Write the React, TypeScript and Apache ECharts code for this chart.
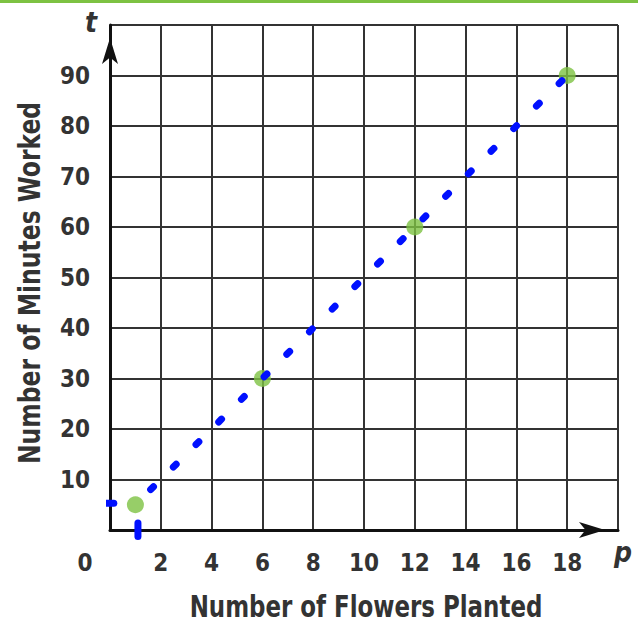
import React, { useEffect, useRef } from "react";
import * as echarts from "echarts";

const xLabels = [2, 4, 6, 8, 10, 12, 14, 16, 18];
const yLabels = [10, 20, 30, 40, 50, 60, 70, 80, 90];
const pointP = [1, 6, 12, 18];
const pointT = [5, 30, 60, 90];
const lineP = [1.6, 18.3];
const lineT = [8, 91.5];
const strayA_P = [-0.15, 0.15];
const strayA_T = [5.3, 5.3];
const strayB_P = [1.1, 1.1];
const strayB_T = [-1.3, 1.4];

const FONT = "'DejaVu Sans Condensed', 'Noto Sans', sans-serif";
const BLUE = "#0010ff";
const GREEN = "#7dc242";

const zip = (a: number[], b: number[]) => a.map((v, i) => [v, b[i]]);

export default function App() {
  const ref = useRef<HTMLDivElement>(null);
  useEffect(() => {
    document.body.style.margin = "0";
    const chart = echarts.init(ref.current!, null, { renderer: "svg" });
    chart.setOption({
      animation: false,
      backgroundColor: "#ffffff",
      grid: { left: 110, top: 25, right: 20, bottom: 98, containLabel: false },
      xAxis: {
        type: "value",
        min: 0,
        max: 20,
        interval: 2,
        axisLine: {
          show: true,
          lineStyle: { color: "#111", width: 3 },
          symbol: ["none", "arrow"],
          symbolSize: [12, 26],
          symbolOffset: [0, -13],
        },
        axisTick: { show: false },
        splitLine: { show: true, lineStyle: { color: "#333", width: 2 } },
        axisLabel: {
          margin: 21,
          fontFamily: FONT,
          fontSize: 24,
          fontWeight: "bold",
          color: "#333",
          formatter: (v: number) => (xLabels.includes(v) ? String(v) : ""),
        },
      },
      yAxis: {
        type: "value",
        min: 0,
        max: 100,
        interval: 10,
        axisLine: {
          show: true,
          lineStyle: { color: "#111", width: 3 },
          symbol: ["none", "arrow"],
          symbolSize: [12, 26],
          symbolOffset: [0, -13],
        },
        axisTick: { show: false },
        splitLine: { show: true, lineStyle: { color: "#333", width: 2 } },
        axisLabel: {
          margin: 20,
          fontFamily: FONT,
          fontSize: 24,
          fontWeight: "bold",
          color: "#333",
          formatter: (v: number) => (yLabels.includes(v) ? String(v) : ""),
        },
      },
      graphic: [
        { type: "rect", left: 0, top: 0, shape: { width: 638, height: 3 }, style: { fill: GREEN } },
        {
          type: "text", x: 85, y: 563,
          style: { text: "0", font: `bold 24px ${FONT}`, fill: "#333", align: "center", verticalAlign: "middle" },
        },
        {
          type: "text", x: 91, y: 22,
          style: { text: "t", font: `italic bold 28px ${FONT}`, fill: "#333", align: "center", verticalAlign: "middle" },
        },
        {
          type: "text", x: 623, y: 552,
          style: { text: "p", font: `italic bold 28px ${FONT}`, fill: "#333", align: "center", verticalAlign: "middle" },
        },
        {
          type: "text", x: 366, y: 607, scaleX: 0.85,
          style: { text: "Number of Flowers Planted", font: `bold 30px ${FONT}`, fill: "#333", align: "center", verticalAlign: "middle" },
        },
        {
          type: "text", x: 30, y: 283, rotation: Math.PI / 2, scaleX: 0.87,
          style: { text: "Number of Minutes Worked", font: `bold 30px ${FONT}`, fill: "#333", align: "center", verticalAlign: "middle" },
        },
      ],
      series: [
        {
          type: "scatter",
          data: zip(pointP, pointT),
          symbolSize: 17,
          itemStyle: { color: GREEN },
          z: 2,
        },
        {
          type: "line",
          data: zip(lineP, lineT),
          showSymbol: false,
          clip: false,
          lineStyle: { color: BLUE, width: 7, type: [4, 28], cap: "round" },
          z: 3,
        },
        {
          type: "line",
          data: zip(strayA_P, strayA_T),
          showSymbol: false,
          clip: false,
          lineStyle: { color: BLUE, width: 7, cap: "round" },
          z: 3,
        },
        {
          type: "line",
          data: zip(strayB_P, strayB_T),
          showSymbol: false,
          clip: false,
          lineStyle: { color: BLUE, width: 7, cap: "round" },
          z: 3,
        },
      ],
    });
    return () => chart.dispose();
  }, []);
  return <div ref={ref} style={{ position: "absolute", left: 0, top: 0, width: 638, height: 628 }} />;
}
